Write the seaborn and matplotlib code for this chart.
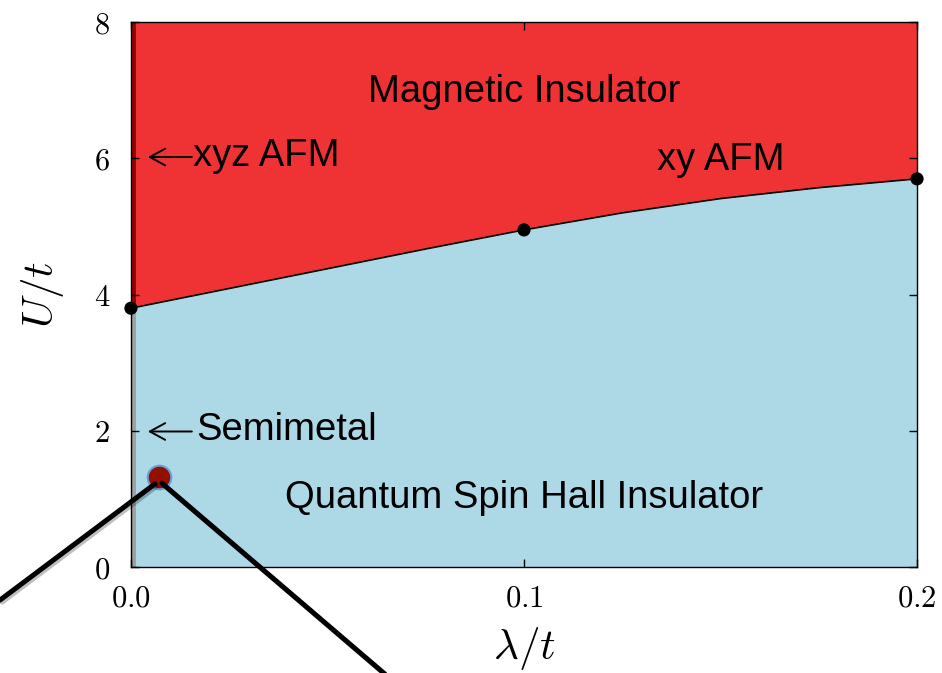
import numpy as np
import pandas as pd
import seaborn as sns
import matplotlib.pyplot as plt
import matplotlib.patheffects as pe

sns.set_style("ticks")
plt.rcParams['font.family'] = ['Liberation Sans', 'DejaVu Sans']
plt.rcParams['mathtext.fontset'] = 'cm'
plt.rcParams['text.color'] = 'black'
plt.rcParams['axes.labelcolor'] = 'black'
plt.rcParams['xtick.color'] = 'black'
plt.rcParams['ytick.color'] = 'black'

# phase boundary U_c/t
lam = [0.0, 0.025, 0.05, 0.075, 0.1, 0.125, 0.15, 0.175, 0.2]
U_c = [3.8, 4.09, 4.38, 4.67, 4.95, 5.2, 5.41, 5.57, 5.7]

# computed points on the boundary
lam_pts = [0.0, 0.1, 0.2]
U_pts = [3.8, 4.95, 5.7]

# semimetal marker
dot_lam, dot_U = 0.0071, 1.32

x_ticks = [0.0, 0.1, 0.2]
x_ticklabels = [r'$0.0$', r'$0.1$', r'$0.2$']
y_ticks = [0, 2, 4, 6, 8]
y_ticklabels = [r'$0$', r'$2$', r'$4$', r'$6$', r'$8$']

red = '#EF3335'
blue = '#ADD8E6'

fig = plt.figure(figsize=(9.42, 6.73), dpi=100)
ax = fig.add_axes([0.139, 0.1575, 0.8345, 0.8095])
ax.set_axisbelow(False)

ax.fill_between(lam, U_c, 8, color=red, lw=0, zorder=1)
ax.fill_between(lam, 0, U_c, color=blue, lw=0, zorder=1)

df = pd.DataFrame({'lam': lam, 'U': U_c})
sns.lineplot(data=df, x='lam', y='U', color='black', lw=1.2, ax=ax, zorder=3)

# left edge: xyz AFM and semimetal segments
ax.plot([0.0004, 0.0004], [U_pts[0], 8], color='#9B0000', lw=3.5, solid_capstyle='butt', zorder=2, clip_on=False)
ax.plot([0.0004, 0.0004], [0, U_pts[0]], color='#A0A0A0', lw=3.5, solid_capstyle='butt', zorder=2, clip_on=False)

pts = pd.DataFrame({'lam': lam_pts, 'U': U_pts})
sns.scatterplot(data=pts, x='lam', y='U', color='black', s=90, edgecolor='none',
                ax=ax, zorder=5, clip_on=False)

ax.plot([dot_lam], [dot_U], 'o', ms=17, mfc='#921000', mec='#6E9ED6', mew=1.5, zorder=6)

shadow = [pe.SimpleLineShadow(offset=(1.5, -1.5), alpha=0.25), pe.Normal()]
ax.plot([0.0061, -0.0333], [1.22, -0.485], color='black', lw=3.6, zorder=7,
        clip_on=False, path_effects=shadow)
ax.plot([0.0079, 0.0672], [1.23, -1.70], color='black', lw=3.6, zorder=7,
        clip_on=False, path_effects=shadow)

fs = 27.5
ax.text(0.1, 6.98, 'Magnetic Insulator', fontsize=fs, ha='center', va='center', zorder=8)
ax.text(0.15, 5.98, 'xy AFM', fontsize=fs, ha='center', va='center', zorder=8)
ax.text(0.1, 1.02, 'Quantum Spin Hall Insulator', fontsize=fs, ha='center', va='center', zorder=8)

arrow = dict(arrowstyle='->,head_length=0.55,head_width=0.3', color='black', lw=1.4,
             mutation_scale=20, shrinkA=0, shrinkB=0)
ax.annotate('', xy=(0.0043, 6.02), xytext=(0.0155, 6.02), arrowprops=arrow, zorder=8)
ax.text(0.0157, 5.89, 'xyz AFM', fontsize=fs, ha='left', va='baseline', zorder=8)
ax.annotate('', xy=(0.0043, 1.99), xytext=(0.0155, 1.99), arrowprops=arrow, zorder=8)
ax.text(0.0167, 1.865, 'Semimetal', fontsize=fs, ha='left', va='baseline', zorder=8)

ax.set_xlim(0, 0.2)
ax.set_ylim(0, 8)
ax.set_xticks(x_ticks)
ax.set_xticklabels(x_ticklabels)
ax.set_yticks(y_ticks)
ax.set_yticklabels(y_ticklabels)
ax.tick_params(direction='in', top=True, right=True, length=6, width=1,
               labelsize=22, color='black')
ax.tick_params(axis='x', pad=12)
ax.tick_params(axis='y', pad=15)
ax.set_xlabel(r'$\lambda/t$', fontsize=31, labelpad=8)
ax.set_ylabel(r'$U/t$', fontsize=31, labelpad=20)
for s in ax.spines.values():
    s.set_linewidth(1.0)
    s.set_color('black')
    s.set_zorder(4)

fig.savefig('out.png', dpi=100)
